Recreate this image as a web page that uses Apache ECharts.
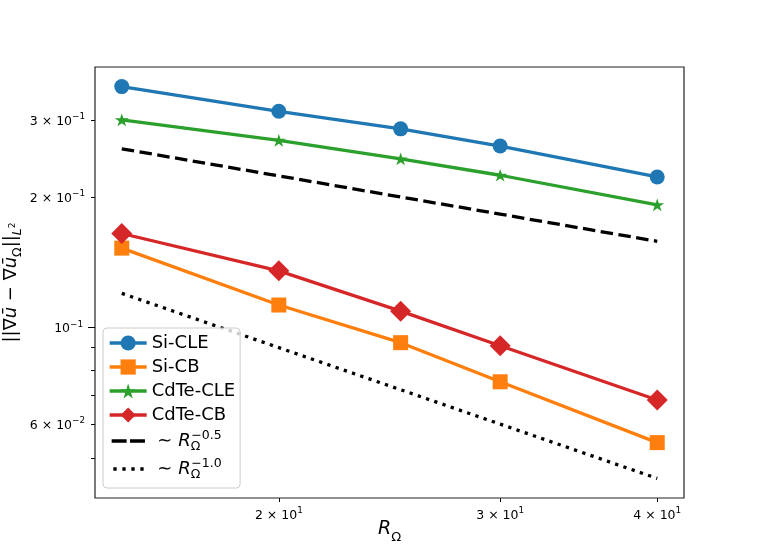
<!DOCTYPE html>
<html><head><meta charset="utf-8">
<script src="https://cdn.jsdelivr.net/npm/echarts@6/dist/echarts.min.js"></script>
<style>html,body{margin:0;padding:0;background:#fff}#c{width:760px;height:560px}</style>
</head><body><div id="c"></div>
<script>
// ---- data ----
const radii   = [15, 20, 25, 30, 40];
const siCLE   = [0.359, 0.315, 0.287, 0.262, 0.2224];
const siCB    = [0.1525, 0.1128, 0.0924, 0.0751, 0.0544];
const cdteCLE = [0.301, 0.270, 0.2447, 0.2244, 0.1918];
const cdteCB  = [0.1648, 0.1352, 0.1092, 0.0909, 0.0682];
const refHalf = [0.2582, 0.2236, 0.2000, 0.1826, 0.1581];
const refOne  = [0.1200, 0.0900, 0.0720, 0.0600, 0.0450];
const seriesNames = ['Si-CLE', 'Si-CB', 'CdTe-CLE', 'CdTe-CB'];
const refExponents = ['\u22120.5', '\u22121.0'];
const xTickValues = [20, 30, 40];
const yMinorTicks = [0.05, 0.06, 0.07, 0.08, 0.09, 0.2, 0.3];
const yMinorLabels = [0.06, 0.2, 0.3];
const yMajorTicks = [0.1];

const FONT = 'DejaVu Sans';
const colors = ['#1f77b4', '#ff7f0e', '#2ca02c', '#d62728'];
const starPath = 'path://M0,-1L0.2245,-0.309L0.951,-0.309L0.363,0.118L0.588,0.809L0,0.382L-0.588,0.809L-0.363,0.118L-0.951,-0.309L-0.2245,-0.309Z';

function logExtent(vals) {
  const lo = Math.log10(Math.min.apply(null, vals));
  const hi = Math.log10(Math.max.apply(null, vals));
  const m = (hi - lo) * 0.05;
  return [lo - m, hi + m];
}
const xLog = logExtent(radii);
const yLog = logExtent([].concat(siCLE, siCB, cdteCLE, cdteCB, refHalf, refOne));

function sciLabel(lv) {
  const e = Math.floor(lv + 1e-9);
  const m = Math.round(Math.pow(10, lv - e));
  const es = (e < 0 ? '\u2212' : '') + Math.abs(e);
  return m === 1 ? '{b|10}{s|' + es + '}' : '{b|' + m + ' \u00d7 10}{s|' + es + '}';
}
const tickRich = {
  b: {fontFamily: FONT, fontSize: 12.5, lineHeight: 16, verticalAlign: 'bottom', color: '#000'},
  s: {fontFamily: FONT, fontSize: 8.8, lineHeight: 10, verticalAlign: 'top', color: '#000'}
};
const lg = v => Math.log10(v);

function pairs(ys) { return radii.map((x, i) => [x, ys[i]]); }

const dataSets = [siCLE, siCB, cdteCLE, cdteCB];
const symbols = ['circle', 'rect', starPath, 'diamond'];
const symbolSizes = [15, 15, [14, 13.3], 21];

const series = dataSets.map((d, i) => ({
  name: seriesNames[i], type: 'line', xAxisIndex: 0, yAxisIndex: 0,
  data: pairs(d), symbol: symbols[i], symbolSize: symbolSizes[i], symbolKeepAspect: true,
  itemStyle: {color: colors[i]}, lineStyle: {color: colors[i], width: 3.3},
  emphasis: {disabled: true}
}));
const refDash = [[12.5, 5.5], [3.3, 5.4]];
const refData = [refHalf, refOne];
refExponents.forEach((e, k) => {
  series.push({
    name: 'ref' + e, type: 'line', xAxisIndex: 0, yAxisIndex: 0,
    data: pairs(refData[k]), symbol: 'none', itemStyle: {color: '#000'},
    lineStyle: {color: '#000', width: 3.3, type: refDash[k], cap: 'butt'}, emphasis: {disabled: true}
  });
});

const legendRefLine = [
  {type: [15, 3.3], dashOffset: 16.3},
  {type: [3.3, 5.7], dashOffset: 5.3}
];
const legendData = seriesNames.map(n => ({name: n})).concat(refExponents.map((e, k) => ({
  name: 'ref' + e,
  itemStyle: {opacity: 0, color: 'rgba(0,0,0,0)', borderWidth: 0},
  lineStyle: {color: '#000', width: 3.3, type: legendRefLine[k].type, dashOffset: legendRefLine[k].dashOffset, cap: 'butt'}
})));

const hidden = {axisLine: {show: false}, axisTick: {show: false}, axisLabel: {show: false},
  splitLine: {show: false}, minorTick: {show: false}, minorSplitLine: {show: false}};

const option = {
  animation: false,
  backgroundColor: '#fff',
  textStyle: {fontFamily: FONT},
  grid: {left: 95, top: 67, right: 76, bottom: 62, show: true, borderColor: '#222',
    borderWidth: 1.2, backgroundColor: 'transparent', outerBoundsMode: 'none', containLabel: false},
  legend: {
    orient: 'vertical', left: 103, top: 328,
    padding: [5, 5, 7, 5], itemGap: 4, itemWidth: 37, itemHeight: 19, itemTextGap: 9,
    backgroundColor: 'rgba(255,255,255,0.8)', borderColor: '#cccccc', borderWidth: 1, borderRadius: 4,
    selectedMode: false,
    lineStyle: {width: 3.3},
    data: legendData,
    formatter: function (name) {
      if (name.indexOf('ref') === 0) {
        const e = name.slice(3);
        return '{t| \u223c }{r|R}{o|\u03a9}{p|' + e + '}';
      }
      return name;
    },
    textStyle: {
      fontFamily: FONT, fontSize: 18, lineHeight: 20, color: '#000',
      rich: {
        t: {fontFamily: FONT, fontSize: 18, lineHeight: 24, color: '#000'},
        r: {fontFamily: FONT, fontStyle: 'italic', fontSize: 18, lineHeight: 24, color: '#000'},
        o: {fontFamily: FONT, fontSize: 12.5, lineHeight: 12, verticalAlign: 'bottom', color: '#000'},
        p: {fontFamily: FONT, fontSize: 12.5, lineHeight: 12, verticalAlign: 'top', color: '#000', padding: [0, 0, 0, -9]}
      }
    }
  },
  xAxis: [
    Object.assign({type: 'log', logBase: 10, gridIndex: 0, position: 'bottom',
      min: Math.pow(10, xLog[0]), max: Math.pow(10, xLog[1]),
      name: '{r|R}{o|\u03a9}', nameLocation: 'middle', nameGap: 22, nameMoveOverlap: false,
      nameTextStyle: {rich: {
        r: {fontFamily: FONT, fontStyle: 'italic', fontSize: 19, lineHeight: 24, verticalAlign: 'top', color: '#000'},
        o: {fontFamily: FONT, fontSize: 13, lineHeight: 13, verticalAlign: 'bottom', color: '#000'}
      }}}, hidden),
    {type: 'value', gridIndex: 0, position: 'bottom', min: xLog[0], max: xLog[1],
      axisLine: {show: false}, splitLine: {show: false},
      axisTick: {show: true, customValues: xTickValues.map(lg), length: 4, lineStyle: {color: '#000', width: 1}},
      axisLabel: {show: true, customValues: xTickValues.map(lg), margin: 8, formatter: sciLabel, rich: tickRich}}
  ],
  yAxis: [
    Object.assign({type: 'log', logBase: 10, gridIndex: 0, position: 'left',
      min: Math.pow(10, yLog[0]), max: Math.pow(10, yLog[1]),
      name: '{n|||\u2207}{i|\u016b}{n| \u2212 \u2207}{i|\u016b}{sb|\u03a9}{n|||}{sbi|L}{ss|2}',
      nameLocation: 'middle', nameRotate: 90, nameGap: 71, nameMoveOverlap: false,
      nameTextStyle: {rich: {
        n: {fontFamily: FONT, fontSize: 18, lineHeight: 22, verticalAlign: 'top', color: '#000'},
        i: {fontFamily: FONT, fontStyle: 'italic', fontSize: 18, lineHeight: 22, verticalAlign: 'top', color: '#000'},
        sb: {fontFamily: FONT, fontSize: 12.5, lineHeight: 12, verticalAlign: 'bottom', color: '#000'},
        sbi: {fontFamily: FONT, fontStyle: 'italic', fontSize: 12.5, lineHeight: 12, verticalAlign: 'bottom', color: '#000'},
        ss: {fontFamily: FONT, fontSize: 9, lineHeight: 9, verticalAlign: 'middle', color: '#000'}
      }}}, hidden),
    {type: 'value', gridIndex: 0, position: 'left', min: yLog[0], max: yLog[1],
      axisLine: {show: false}, splitLine: {show: false},
      axisTick: {show: true, customValues: yMinorTicks.map(lg), length: 4, lineStyle: {color: '#000', width: 1}},
      axisLabel: {show: true, customValues: yMinorLabels.map(lg), margin: 10, formatter: sciLabel, rich: tickRich}},
    {type: 'value', gridIndex: 0, position: 'left', min: yLog[0], max: yLog[1],
      axisLine: {show: false}, splitLine: {show: false},
      axisTick: {show: true, customValues: yMajorTicks.map(lg), length: 7, lineStyle: {color: '#000', width: 1}},
      axisLabel: {show: true, customValues: yMajorTicks.map(lg), margin: 12, formatter: sciLabel, rich: tickRich}}
  ],
  series: series
};
const chart = echarts.init(document.getElementById('c'), null, {renderer: 'canvas'});
chart.setOption(option);
</script>
</body></html>
